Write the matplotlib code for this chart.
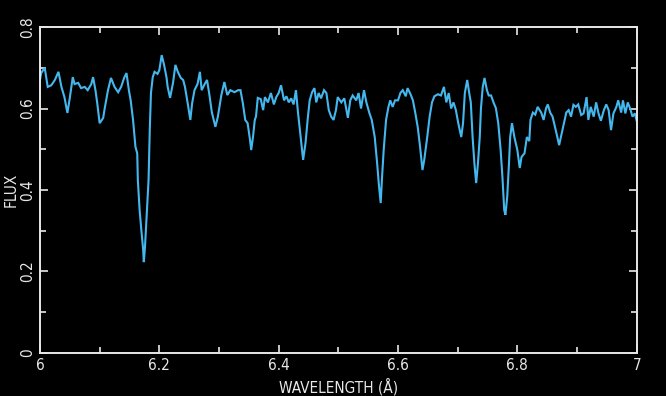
import matplotlib
matplotlib.use("Agg")
import matplotlib.pyplot as plt
from matplotlib.ticker import MultipleLocator
import numpy as np

# spectrum, wavelength in Angstrom
wavelength = [
    6.000, 6.002, 6.008, 6.013, 6.019, 6.025, 6.031, 6.036, 6.041, 6.046,
    6.050, 6.055, 6.058, 6.064, 6.069, 6.075, 6.080, 6.086, 6.089, 6.093,
    6.096, 6.100, 6.106, 6.108, 6.114, 6.119, 6.125, 6.131, 6.136, 6.141,
    6.145, 6.149, 6.152, 6.156, 6.160, 6.163, 6.164, 6.167, 6.170, 6.173,
    6.174, 6.176, 6.179, 6.182, 6.184, 6.186, 6.189, 6.192, 6.197, 6.200,
    6.204, 6.208, 6.212, 6.214, 6.218, 6.223, 6.227, 6.231, 6.236, 6.240,
    6.243, 6.248, 6.252, 6.255, 6.259, 6.264, 6.268, 6.271, 6.276, 6.280,
    6.284, 6.288, 6.294, 6.298, 6.304, 6.309, 6.314, 6.319, 6.326, 6.332,
    6.336, 6.340, 6.344, 6.348, 6.352, 6.354, 6.357, 6.360, 6.362, 6.365,
    6.370, 6.374, 6.377, 6.382, 6.387, 6.392, 6.396, 6.400, 6.404, 6.409,
    6.413, 6.417, 6.421, 6.425, 6.429, 6.432, 6.435, 6.438, 6.441, 6.445,
    6.449, 6.452, 6.456, 6.460, 6.463, 6.467, 6.471, 6.476, 6.480, 6.484,
    6.488, 6.492, 6.496, 6.499, 6.505, 6.510, 6.516, 6.520, 6.524, 6.530,
    6.534, 6.538, 6.543, 6.547, 6.552, 6.556, 6.561, 6.565, 6.568, 6.571,
    6.573, 6.576, 6.580, 6.584, 6.587, 6.591, 6.595, 6.600, 6.604, 6.608,
    6.613, 6.616, 6.621, 6.625, 6.629, 6.633, 6.637, 6.641, 6.644, 6.649,
    6.653, 6.657, 6.661, 6.667, 6.672, 6.677, 6.681, 6.685, 6.689, 6.693,
    6.697, 6.701, 6.706, 6.709, 6.712, 6.716, 6.720, 6.722, 6.725, 6.728,
    6.731, 6.734, 6.737, 6.739, 6.742, 6.745, 6.749, 6.752, 6.756, 6.760,
    6.764, 6.768, 6.772, 6.775, 6.778, 6.780, 6.783, 6.786, 6.788, 6.791,
    6.795, 6.800, 6.804, 6.807, 6.812, 6.816, 6.820, 6.822, 6.826, 6.830,
    6.834, 6.840, 6.844, 6.848, 6.851, 6.855, 6.859, 6.863, 6.867, 6.870,
    6.873, 6.878, 6.882, 6.886, 6.890, 6.894, 6.898, 6.902, 6.907, 6.911,
    6.916, 6.919, 6.923, 6.928, 6.932, 6.936, 6.940, 6.945, 6.949, 6.953,
    6.957, 6.961, 6.966, 6.969, 6.974, 6.977, 6.981, 6.985, 6.989, 6.993,
    6.997, 7.000,
]
flux = [
    0.670, 0.687, 0.700, 0.653, 0.657, 0.670, 0.690, 0.653, 0.628, 0.589,
    0.626, 0.677, 0.660, 0.663, 0.650, 0.653, 0.645, 0.660, 0.677, 0.645,
    0.613, 0.564, 0.577, 0.596, 0.645, 0.675, 0.653, 0.640, 0.653, 0.675,
    0.687, 0.645, 0.620, 0.572, 0.506, 0.490, 0.425, 0.351, 0.300, 0.253,
    0.223, 0.260, 0.343, 0.425, 0.547, 0.638, 0.677, 0.690, 0.685, 0.694,
    0.731, 0.707, 0.677, 0.653, 0.626, 0.663, 0.707, 0.690, 0.675, 0.670,
    0.653, 0.609, 0.572, 0.613, 0.645, 0.660, 0.690, 0.645, 0.660, 0.670,
    0.633, 0.591, 0.555, 0.579, 0.633, 0.665, 0.633, 0.645, 0.640, 0.645,
    0.645, 0.613, 0.572, 0.564, 0.523, 0.498, 0.530, 0.572, 0.580, 0.626,
    0.623, 0.596, 0.628, 0.615, 0.638, 0.610, 0.628, 0.638, 0.657, 0.620,
    0.630, 0.615, 0.625, 0.610, 0.645, 0.596, 0.555, 0.515, 0.474, 0.515,
    0.579, 0.620, 0.640, 0.650, 0.615, 0.638, 0.625, 0.645, 0.638, 0.596,
    0.580, 0.572, 0.596, 0.628, 0.615, 0.625, 0.577, 0.620, 0.632, 0.620,
    0.638, 0.600, 0.645, 0.615, 0.589, 0.572, 0.530, 0.466, 0.412, 0.368,
    0.425, 0.498, 0.572, 0.604, 0.620, 0.604, 0.620, 0.620, 0.638, 0.645,
    0.630, 0.650, 0.635, 0.620, 0.589, 0.555, 0.506, 0.449, 0.474, 0.530,
    0.580, 0.615, 0.630, 0.635, 0.632, 0.653, 0.615, 0.638, 0.600, 0.615,
    0.596, 0.564, 0.530, 0.564, 0.638, 0.670, 0.632, 0.615, 0.530, 0.466,
    0.417, 0.466, 0.530, 0.600, 0.653, 0.675, 0.645, 0.632, 0.632, 0.615,
    0.601, 0.564, 0.498, 0.432, 0.351, 0.339, 0.383, 0.466, 0.530, 0.564,
    0.530, 0.498, 0.454, 0.481, 0.490, 0.530, 0.520, 0.572, 0.590, 0.585,
    0.604, 0.590, 0.572, 0.600, 0.610, 0.590, 0.580, 0.555, 0.530, 0.510,
    0.530, 0.564, 0.590, 0.596, 0.580, 0.609, 0.604, 0.610, 0.584, 0.588,
    0.628, 0.572, 0.604, 0.580, 0.615, 0.588, 0.570, 0.596, 0.610, 0.596,
    0.547, 0.588, 0.604, 0.620, 0.590, 0.620, 0.588, 0.615, 0.600, 0.580,
    0.588, 0.570,
]

fg = "#e8e8e8"
line_col = "#44b8ee"

fig = plt.figure(figsize=(6.66, 3.96), dpi=100, facecolor="black")
ax = fig.add_axes([0.060, 0.1086, 0.896, 0.8232], facecolor="black")

ax.plot(wavelength, flux, color=line_col, lw=1.5, solid_joinstyle="miter")

ax.set_xlim(6, 7)
ax.set_ylim(0, 0.8)
ax.xaxis.set_major_locator(MultipleLocator(0.2))
ax.xaxis.set_minor_locator(MultipleLocator(0.1))
ax.yaxis.set_major_locator(MultipleLocator(0.2))
ax.yaxis.set_minor_locator(MultipleLocator(0.1))
ax.set_xticklabels([f"{v:g}" for v in ax.get_xticks()])
ax.set_yticklabels([f"{v:g}" for v in ax.get_yticks()])

for s in ax.spines.values():
    s.set_color(fg)
    s.set_linewidth(1.4)
ax.tick_params(which="both", direction="in", colors=fg, top=True, right=True,
               width=1.2, labelsize=11)
ax.tick_params(which="major", length=6)
ax.tick_params(which="minor", length=4)
for lab in ax.get_yticklabels():
    lab.set_rotation(90)
    lab.set_va("center")
for lab in ax.get_xticklabels() + ax.get_yticklabels():
    lab.set_fontstretch("condensed")

ax.set_xlabel("WAVELENGTH (Å)", color=fg, fontsize=11, fontstretch="condensed", labelpad=4)
ax.set_ylabel("FLUX", color=fg, fontsize=11, fontstretch="condensed", labelpad=1)

fig.savefig("out.png", dpi=100, facecolor="black")
